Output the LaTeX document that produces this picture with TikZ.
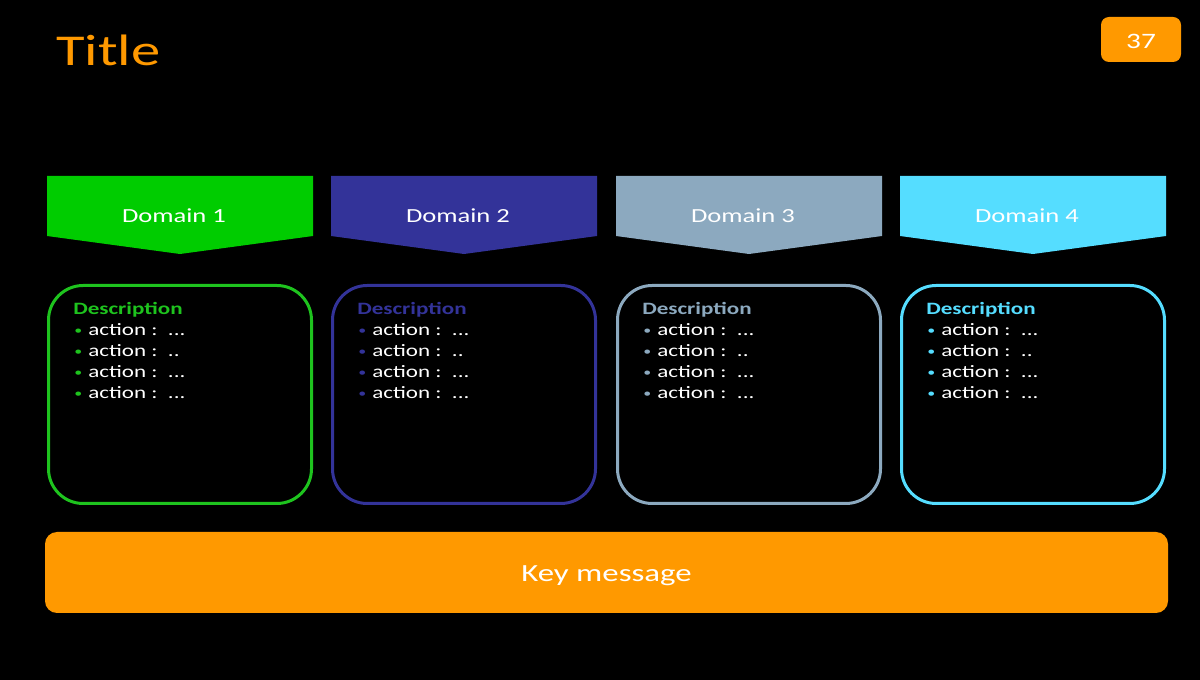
\documentclass[tikz,border=0pt]{standalone}
\usepackage{fontspec}
\setmainfont[FakeStretch=1.33]{Carlito}
\definecolor{korange}{HTML}{FF9900}
\definecolor{cgreen}{HTML}{00CC00}
\definecolor{cgreenb}{HTML}{1EC31E}
\definecolor{cnavy}{HTML}{333399}
\definecolor{cgray}{HTML}{8CA9BF}
\definecolor{ccyan}{HTML}{55DDFF}
\tikzset{
  boxstyle/.style={draw=#1, line width=2.25pt, rounded corners=26pt, minimum width=197.25pt, minimum height=163.5pt, inner sep=0pt},
  headtext/.style={text=white, font=\fontsize{15}{18}\selectfont},
  desctext/.style={anchor=base west, inner sep=0pt, text=#1, font=\fontsize{13}{15.75}\selectfont\bfseries},
  acttext/.style={anchor=base west, inner sep=0pt, text=white, font=\fontsize{13}{15.75}\selectfont},
}
\begin{document}
\begin{tikzpicture}[x=0.75pt,y=-0.75pt]
\fill[black] (0,0) rectangle (1200,680);
\useasboundingbox (0,0) rectangle (1200,680);
\node[anchor=base west, inner sep=0pt, text=korange, font=\fontsize{33}{38}\selectfont] (title) at (56,66) {Title};
\node[fill=korange, rounded corners=6pt, minimum width=60pt, minimum height=33.75pt, inner sep=0pt] (page) at (1141,39.5) {};
\node[text=white, font=\fontsize{16.5}{20}\selectfont, inner sep=0pt] (pagenum) at (1141,41) {37};
\foreach \i/\xl/\hcol/\bcol in {1/47/cgreen/cgreenb, 2/331/cnavy/cnavy, 3/616/cgray/cgray, 4/900/ccyan/ccyan}{
  \pgfmathsetmacro{\xr}{\xl+266}
  \pgfmathsetmacro{\xm}{\xl+133}
  \fill[\hcol] (\xl,176) -- (\xr,176) -- (\xr,236) -- (\xm,254) -- (\xl,236) -- cycle;
  \node[headtext] (h\i) at (\xm-6,216) {Domain \i};
  \node[boxstyle=\bcol] (b\i) at (\xm,394.5) {};
  \node[desctext=\bcol] (d\i) at (\xl+26,315) {Description};
  \node[acttext] (a\i1) at (\xl+27,336) {\makebox[10.5pt][l]{\raisebox{1pt}{\textcolor{\bcol}{\small•}}}action :\ \ ...};
  \node[acttext] (a\i2) at (\xl+27,357) {\makebox[10.5pt][l]{\raisebox{1pt}{\textcolor{\bcol}{\small•}}}action :\ \ ..};
  \node[acttext] (a\i3) at (\xl+27,378) {\makebox[10.5pt][l]{\raisebox{1pt}{\textcolor{\bcol}{\small•}}}action :\ \ ...};
  \node[acttext] (a\i4) at (\xl+27,399) {\makebox[10.5pt][l]{\raisebox{1pt}{\textcolor{\bcol}{\small•}}}action :\ \ ...};
}
\node[fill=korange, rounded corners=9pt, minimum width=842.25pt, minimum height=60.75pt, inner sep=0pt] (key) at (606.5,572.5) {};
\node[text=white, font=\fontsize{18.5}{22}\selectfont, inner sep=0pt] (keytext) at (606.5,576) {Key message};
\end{tikzpicture}
\end{document}
